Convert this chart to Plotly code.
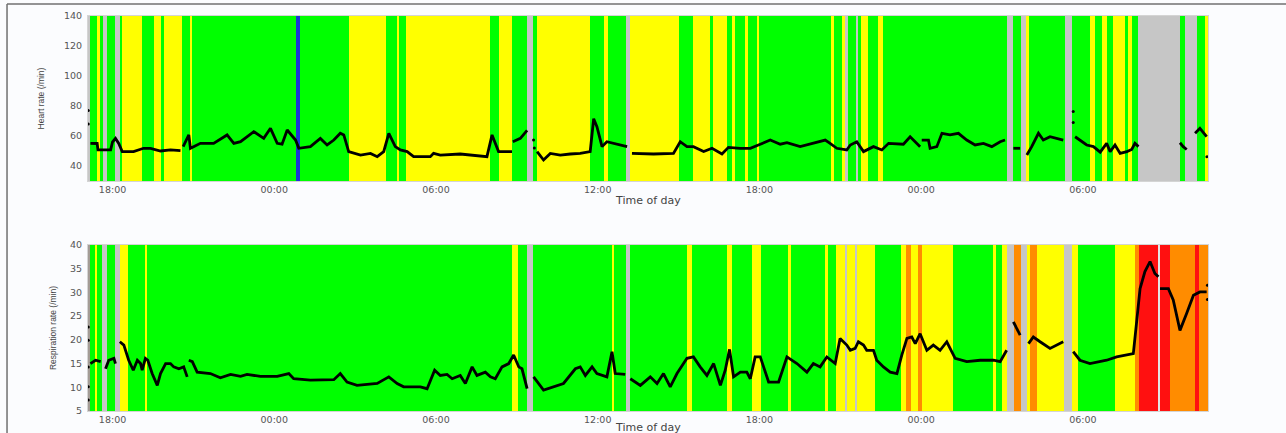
import plotly.graph_objects as go

# ---------------- data ----------------
# time axis in hours since midnight of day 1 (18 = 18:00 day 1, 48 = 00:00 day 3)
tick_hours = [18, 24, 30, 36, 42, 48, 54]
tick_labels = ["18:00", "00:00", "06:00", "12:00", "18:00", "00:00", "06:00"]
x_start, x_end = 17.09, 58.64
x_title = "Time of day"

# status bands (G=green, Y=yellow, S=grey/no data, B=blue, O=orange, R=red, D=dark grey, L=light)
hr_band_edges = [17.09, 17.16, 17.43, 17.56, 17.63, 17.78, 18.11, 18.30, 18.36, 19.10,
                 19.53, 19.78, 19.90, 20.58, 20.89, 20.95, 24.82, 24.97, 26.76, 28.16,
                 28.55, 28.64, 28.89, 32.02, 32.32, 32.82, 33.38, 33.60, 33.75, 35.72,
                 36.22, 36.37, 37.06, 37.21, 39.00, 39.54, 40.17, 40.27, 40.79, 40.98,
                 41.10, 41.47, 41.59, 41.90, 41.99, 44.66, 44.77, 45.06, 45.18, 45.30,
                 45.61, 45.67, 45.77, 46.02, 46.41, 46.60, 51.17, 51.42, 51.70, 51.87,
                 52.01, 53.34, 53.61, 54.26, 54.45, 54.71, 54.88, 55.13, 55.56, 55.68,
                 55.81, 56.05, 57.60, 57.79, 58.22, 58.53, 58.64]
hr_band_states = ["S", "G", "Y", "G", "S", "G", "S", "G", "Y", "G",
                  "Y", "G", "Y", "G", "Y", "G", "B", "G", "Y", "G",
                  "Y", "G", "Y", "G", "Y", "G", "S", "G", "Y", "G",
                  "Y", "G", "S", "Y", "G", "Y", "G", "Y", "G", "Y",
                  "G", "Y", "G", "Y", "G", "Y", "G", "Y", "S", "G",
                  "S", "G", "Y", "G", "Y", "G", "S", "G", "S", "Y",
                  "G", "S", "G", "Y", "G", "Y", "G", "Y", "G", "Y",
                  "G", "S", "G", "S", "G", "Y"]

rr_band_edges = [17.09, 17.18, 17.37, 17.43, 17.62, 17.80, 18.11, 18.28, 18.57, 19.22,
                 19.29, 32.82, 33.03, 33.38, 33.60, 36.53, 36.61, 37.06, 37.18, 39.31,
                 39.51, 40.79, 40.98, 41.72, 42.06, 43.07, 43.16, 44.44, 44.56, 44.85,
                 45.18, 45.24, 45.55, 45.61, 46.27, 47.26, 47.44, 47.63, 47.89, 48.03,
                 49.19, 50.68, 50.77, 50.99, 51.17, 51.43, 51.69, 51.92, 52.04, 52.30,
                 53.31, 53.61, 53.83, 55.18, 55.93, 56.09, 56.80, 56.86, 57.23, 58.16,
                 58.32, 58.64]
rr_band_states = ["D", "G", "Y", "G", "S", "G", "S", "Y", "G", "Y",
                  "G", "Y", "G", "S", "G", "Y", "G", "S", "G", "Y",
                  "G", "Y", "G", "Y", "G", "Y", "G", "Y", "G", "Y",
                  "S", "Y", "S", "Y", "G", "Y", "O", "Y", "O", "Y",
                  "G", "Y", "G", "Y", "S", "O", "S", "Y", "O", "Y",
                  "S", "Y", "G", "Y", "O", "R", "L", "R", "O", "R",
                  "O"]

# heart rate (/min); None = gap in recording
hr_time = [17.18, 17.43, 17.46, 17.93, 18.00, 18.11, 18.23, 18.36, 18.78, 19.15, 19.41, 19.78, 20.15, 20.52, None,
           20.62, 20.83, 20.89, 21.26, 21.75, 22.25, 22.50, 22.75, 23.24, 23.61,
           23.86, 24.11, 24.29, 24.48, 24.79, 24.91, 25.34, 25.71, 25.96, 26.21,
           26.45, 26.58, 26.76, 27.20, 27.57, 27.82, 28.06, 28.25, 28.49, 28.68,
           28.93, 29.17, 29.79, 29.91, 30.16, 30.90, 31.89, 32.08, 32.32, 32.82, None,
           32.85, 33.13, 33.38, None,
           33.75, 33.99, 34.24, 34.61, 34.98, 35.35, 35.72, 35.85, 35.97, 36.16, 36.34, 36.59, 36.84, 37.09, None,
           37.27, 38.07, 38.81, 39.06, 39.31, 39.55, 39.93, 40.24, 40.61, 40.85,
           41.29, 41.66, 42.03, 42.40, 42.77, 43.02, 43.51, 44.00, 44.44, 44.62,
           44.87, 45.24, 45.37, 45.61, 45.86, 46.23, 46.54, 46.79, 47.34, 47.59, 47.96, None,
           48.02, 48.27, 48.33, 48.58, 48.77, 49.07, 49.38, 49.69, 50.00, 50.31, 50.62, 50.93, 51.11, None,
           51.42, 51.67, None,
           51.92, 52.10, 52.35, 52.53, 52.78, 53.27, None,
           53.71, 54.14, 54.39, 54.64, 54.88, 55.01, 55.19, 55.38, 55.63, 55.81, 55.93, 56.06, None,
           57.60, 57.72, 57.85, None,
           58.16, 58.34, 58.59]
hr_value = [55.1, 55.0, 50.7, 50.7, 56.0, 58.4, 55.0, 49.6, 49.6, 51.8, 51.8, 50.0, 50.7, 50.2, None,
            52.9, 60.7, 51.8, 55.1, 55.1, 60.7, 55.1, 56.2, 62.9, 58.4,
            65.1, 55.1, 54.5, 64.0, 57.3, 51.8, 52.9, 58.4, 54.0, 57.3,
            61.8, 60.7, 49.6, 47.3, 48.4, 46.2, 49.6, 61.8, 52.9, 50.7,
            49.6, 46.2, 46.2, 48.4, 47.3, 48.0, 46.2, 60.7, 49.6, 49.6, None,
            56.2, 58.4, 63.7, None,
            49.6, 44.0, 48.4, 47.3, 48.0, 48.4, 49.6, 71.5, 66.2, 52.9, 56.2, 55.1, 54.0, 52.9, None,
            48.4, 48.0, 48.4, 56.2, 52.9, 52.9, 49.6, 51.8, 48.0, 52.4,
            51.8, 51.8, 54.5, 57.3, 54.5, 55.5, 52.9, 55.1, 57.3, 55.1,
            51.8, 50.7, 54.0, 56.2, 49.6, 52.9, 50.7, 55.1, 54.5, 59.5, 52.9, None,
            57.3, 57.3, 51.8, 52.9, 61.8, 60.7, 61.8, 57.3, 54.0, 55.1, 52.9, 56.2, 57.3, None,
            51.8, 51.8, None,
            47.3, 52.9, 61.8, 57.3, 59.5, 57.3, None,
            59.5, 54.0, 52.9, 49.2, 55.1, 49.6, 54.0, 48.4, 49.6, 51.0, 55.1, 52.9, None,
            55.5, 52.9, 51.0, None,
            61.8, 65.1, 59.5]
hr_dot_time = [17.10, 17.10, 33.62, 33.65, 53.64, 53.64, 58.60]
hr_dot_value = [77.0, 68.0, 57.3, 52.0, 76.4, 69.0, 46.2]

# respiration rate (/min)
rr_time = [17.18, 17.37, 17.56, None,
           17.74, 17.86, 18.05, 18.11, None,
           18.27, 18.42, 18.60, 18.77, 18.92, 19.04, 19.10, 19.22, 19.31, 19.47,
           19.66, 19.78, 19.97, 20.15, 20.27, 20.46, 20.64, 20.77, None,
           20.83, 20.96, 21.14, 21.63, 22.00, 22.38, 22.75, 22.99, 23.49, 24.11,
           24.54, 24.72, 25.34, 26.21, 26.45, 26.70, 27.07, 27.82, 28.25, 28.56,
           28.80, 29.42, 29.67, 29.85, 29.95, 30.16, 30.41, 30.60, 30.90, 31.09,
           31.34, 31.52, 31.83, 32.02, 32.20, 32.45, 32.70, 32.88, 33.07, 33.19, 33.38, None,
           33.62, 33.99, 34.73, 35.17, 35.35, 35.54, 35.79, 35.97, 36.34, 36.53, 36.65, 37.02, None,
           37.21, 37.58, 37.95, 38.20, 38.44, 38.69, 38.94, 39.31, 39.55, 39.80,
           40.05, 40.30, 40.55, 40.73, 40.89, 41.04, 41.29, 41.53, 41.66, 41.84,
           42.03, 42.34, 42.71, 43.02, 43.39, 43.76, 44.00, 44.25, 44.50, 44.81,
           44.99, 45.24, 45.37, 45.55, 45.67, 45.86, 45.98, 46.23, 46.35, 46.60,
           46.85, 47.10, 47.28, 47.47, 47.65, 47.78, 47.96, 48.21, 48.45, 48.70,
           48.95, 49.26, 49.69, 50.19, 50.68, 50.93, 51.17, None,
           51.42, 51.67, None,
           51.98, 52.16, 52.41, 52.78, 53.27, None,
           53.64, 53.89, 54.26, 54.88, 55.25, 55.63, 55.87, 56.00, 56.12, 56.30, 56.49, 56.67, 56.80, None,
           56.86, 57.17, 57.35, 57.60, 57.85, 58.10, 58.34, 58.59]
rr_value = [15.0, 15.7, 15.4, None,
            13.9, 15.7, 16.1, 15.0, None,
            19.6, 18.9, 15.7, 13.6, 15.7, 15.0, 13.6, 16.1, 15.7, 12.9,
            10.4, 12.9, 15.0, 15.0, 14.3, 13.9, 14.3, 12.2, None,
            15.7, 15.4, 13.2, 12.9, 12.0, 12.7, 12.3, 12.7, 12.3, 12.3,
            12.9, 11.8, 11.5, 11.6, 12.9, 11.1, 10.4, 10.8, 12.2, 10.8,
            10.1, 10.1, 9.7, 12.0, 13.6, 12.5, 12.7, 11.8, 12.5, 10.8,
            14.3, 12.5, 13.2, 12.2, 11.8, 14.3, 15.0, 16.8, 14.3, 13.9, 9.7, None,
            12.2, 9.4, 10.8, 13.9, 14.3, 12.5, 14.3, 12.9, 12.2, 17.5, 12.9, 12.7, None,
            11.8, 10.4, 12.2, 10.8, 12.9, 10.1, 12.9, 16.1, 16.4, 14.3,
            12.5, 15.0, 10.4, 13.6, 18.0, 12.2, 13.2, 13.2, 11.8, 16.4,
            16.4, 11.1, 11.1, 16.4, 15.0, 13.2, 15.0, 14.3, 16.4, 15.0,
            20.3, 18.9, 17.8, 18.2, 19.6, 18.9, 17.8, 17.8, 15.7, 14.3,
            13.2, 12.9, 16.8, 20.3, 20.6, 19.2, 21.3, 17.8, 18.9, 17.8,
            19.6, 16.1, 15.4, 15.7, 15.7, 15.4, 17.8, None,
            23.8, 21.0, None,
            19.2, 20.6, 19.6, 18.2, 19.6, None,
            17.5, 15.7, 15.0, 15.7, 16.4, 16.8, 17.1, 24.2, 30.8, 34.4, 36.5, 34.0, 33.3, None,
            30.8, 30.8, 28.4, 22.0, 25.6, 29.4, 30.1, 30.1]
rr_dot_time = [17.10, 17.10, 17.10, 17.10, 17.10, 58.62, 58.62]
rr_dot_value = [22.7, 19.9, 14.3, 10.1, 7.3, 31.5, 28.5]

assert len(hr_band_edges) == len(hr_band_states) + 1
assert len(rr_band_edges) == len(rr_band_states) + 1
assert len(hr_time) == len(hr_value) and len(rr_time) == len(rr_value)

# ---------------- styling ----------------
COLORS = {"G": "#00ff00", "Y": "#ffff00", "S": "#c6c6c6", "B": "#1a35d8",
          "O": "#ff8c00", "R": "#ff1010", "D": "#a39c96", "L": "#e4e4e4"}
TICK_FONT = dict(family="DejaVu Sans", size=9.5, color="#555555")
TITLE_FONT = dict(family="DejaVu Sans", size=11, color="#444444")
YTITLE_FONT = dict(family="Liberation Sans", size=8.5, color="#444444")


def bands(edges, states, lo, hi, xa, ya):
    centers = [(a + b) / 2 for a, b in zip(edges[:-1], edges[1:])]
    widths = [b - a for a, b in zip(edges[:-1], edges[1:])]
    return go.Bar(x=centers, y=[hi - lo] * len(centers), base=lo, width=widths,
                  marker=dict(color=[COLORS[s] for s in states], line=dict(width=0)),
                  xaxis=xa, yaxis=ya, hoverinfo="skip", showlegend=False)


fig = go.Figure()
fig.add_trace(bands(hr_band_edges, hr_band_states, 30, 140, "x", "y"))
fig.add_trace(bands(rr_band_edges, rr_band_states, 5, 40, "x2", "y2"))
fig.add_trace(go.Scatter(x=hr_time, y=hr_value, mode="lines", connectgaps=False,
                         line=dict(color="black", width=2.8), xaxis="x", yaxis="y", showlegend=False))
fig.add_trace(go.Scatter(x=hr_dot_time, y=hr_dot_value, mode="markers",
                         marker=dict(color="black", size=3), xaxis="x", yaxis="y", showlegend=False))
fig.add_trace(go.Scatter(x=rr_time, y=rr_value, mode="lines", connectgaps=False,
                         line=dict(color="black", width=2.8), xaxis="x2", yaxis="y2", showlegend=False))
fig.add_trace(go.Scatter(x=rr_dot_time, y=rr_dot_value, mode="markers",
                         marker=dict(color="black", size=3), xaxis="x2", yaxis="y2", showlegend=False))

xcommon = dict(range=[x_start, x_end], tickmode="array", tickvals=tick_hours, ticktext=tick_labels,
               showgrid=False, zeroline=False, ticks="", tickfont=TICK_FONT, ticklabelstandoff=0,
               showline=True, linecolor="#d4d4d4", linewidth=1, mirror=True, automargin=False)
ycommon = dict(showgrid=False, zeroline=False, ticks="", tickfont=TICK_FONT,
               showline=True, linecolor="#d4d4d4", linewidth=1, mirror=True,
               ticklabelstandoff=3, automargin=False)

fig.update_layout(
    width=1286, height=433,
    margin=dict(l=88, r=78, t=16, b=22),
    paper_bgcolor="#fbfcfe", plot_bgcolor="#ffffff",
    barmode="overlay", bargap=0,
    xaxis=dict(domain=[0, 1], anchor="y", **xcommon),
    yaxis=dict(domain=[0.5823, 1], range=[30, 140], tickvals=[40, 60, 80, 100, 120, 140],
               title=dict(text="Heart rate (/min)", font=YTITLE_FONT, standoff=17), **ycommon),
    xaxis2=dict(domain=[0, 1], anchor="y2", **xcommon),
    yaxis2=dict(domain=[0, 0.4203], range=[5, 40], tickvals=[5, 10, 15, 20, 25, 30, 35, 40],
                title=dict(text="Respiration rate (/min)", font=YTITLE_FONT, standoff=12), **ycommon),
    annotations=[
        dict(text=x_title, xref="paper", yref="paper", x=0.5, y=0.533, xanchor="center",
             yanchor="middle", showarrow=False, font=TITLE_FONT),
        dict(text=x_title, xref="paper", yref="paper", x=0.5, y=-0.043, xanchor="center",
             yanchor="middle", showarrow=False, font=TITLE_FONT),
    ],
    shapes=[
        dict(type="line", xref="paper", yref="paper", x0=-0.0723, x1=1.08, y0=1.0304, y1=1.0304,
             line=dict(color="#707070", width=1.5)),
        dict(type="line", xref="paper", yref="paper", x0=-0.0723, x1=-0.0723, y0=1.0304, y1=-0.08,
             line=dict(color="#707070", width=1.5)),
    ],
)

fig.write_html("out.html")
